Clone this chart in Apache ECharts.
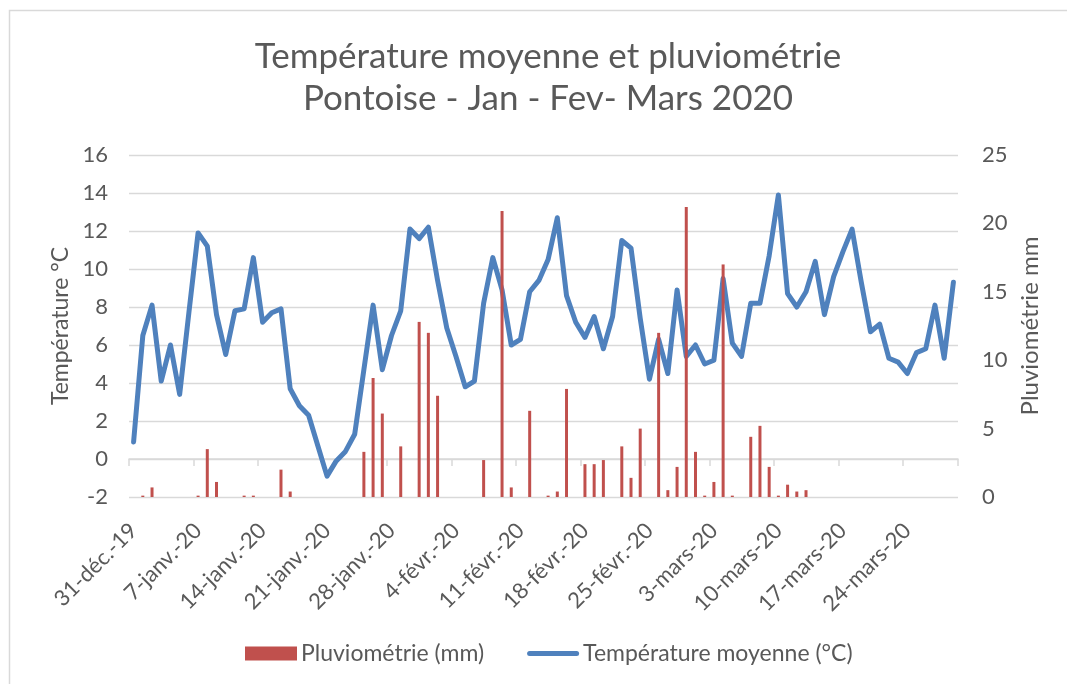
<!DOCTYPE html>
<html>
<head>
<meta charset="utf-8">
<script src="https://cdn.jsdelivr.net/npm/echarts@6/dist/echarts.min.js"></script>
<style>
  html, body { margin: 0; padding: 0; background: #fff; }
  #chart { width: 1067px; height: 684px; }
</style>
</head>
<body>
<div id="chart"></div>
<script>
// 31 déc. 2019 -> 29 mars 2020, one value per day
const startDay = new Date(2019, 11, 31);
const dayCount = 90;

const tickLabels = [
  '31-déc.-19', '7-janv.-20', '14-janv.-20', '21-janv.-20', '28-janv.-20',
  '4-févr.-20', '11-févr.-20', '18-févr.-20', '25-févr.-20',
  '3-mars-20', '10-mars-20', '17-mars-20', '24-mars-20'
];

const temperature = [
  0.9, 6.5, 8.1, 4.1, 6.0, 3.4, 7.7, 11.9, 11.2, 7.6,
  5.5, 7.8, 7.9, 10.6, 7.2, 7.7, 7.9, 3.7, 2.8, 2.3,
  0.7, -0.9, -0.1, 0.4, 1.3, 4.7, 8.1, 4.7, 6.5, 7.8,
  12.1, 11.6, 12.2, 9.4, 6.9, 5.4, 3.8, 4.1, 8.2, 10.6,
  8.9, 6.0, 6.3, 8.8, 9.4, 10.5, 12.7, 8.6, 7.2, 6.4,
  7.5, 5.8, 7.5, 11.5, 11.1, 7.4, 4.2, 6.3, 4.5, 8.9,
  5.4, 6.0, 5.0, 5.2, 9.5, 6.1, 5.4, 8.2, 8.2, 10.7,
  13.9, 8.7, 8.0, 8.8, 10.4, 7.6, 9.6, 10.9, 12.1, 9.3,
  6.7, 7.1, 5.3, 5.1, 4.5, 5.6, 5.8, 8.1, 5.3, 9.3
];

const rainfall = [
  0, 0.1, 0.7, 0, 0, 0, 0, 0.1, 3.5, 1.1,
  0, 0, 0.1, 0.1, 0, 0, 2.0, 0.4, 0, 0,
  0, 0, 0, 0, 0, 3.3, 8.7, 6.1, 0, 3.7,
  0, 12.8, 12.0, 7.4, 0, 0, 0, 0, 2.7, 0,
  20.9, 0.7, 0, 6.3, 0, 0.1, 0.4, 7.9, 0, 2.4,
  2.4, 2.7, 0, 3.7, 1.4, 5.0, 0, 12.0, 0.5, 2.2,
  21.2, 3.3, 0.1, 1.1, 17.0, 0.1, 0, 4.4, 5.2, 2.2,
  0.1, 0.9, 0.4, 0.5, 0, 0, 0, 0, 0, 0,
  0, 0, 0, 0, 0, 0, 0, 0, 0, 0
];

const days = [];
for (let i = 0; i < dayCount; i++) {
  const d = new Date(startDay.getTime() + i * 86400000);
  days.push(d.getFullYear() + '-' + (d.getMonth() + 1) + '-' + d.getDate());
}

const textColor = '#595959';
const gridColor = '#d9d9d9';
const tempColor = '#4f81bd';
const rainColor = '#c0504d';
const font = 'Lato, "Open Sans", sans-serif';

const chart = echarts.init(document.getElementById('chart'));

const option = {
  animation: false,
  backgroundColor: '#fff',
  textStyle: { fontFamily: font, color: textColor },
  graphic: [
    {
      type: 'rect',
      shape: { x: 9.5, y: 10.5, width: 1120, height: 720 },
      style: { fill: null, stroke: gridColor, lineWidth: 1.5 },
      silent: true
    }
  ],
  title: {
    text: 'Température moyenne et pluviométrie\nPontoise - Jan - Fev- Mars 2020',
    left: 543,
    top: 31,
    textAlign: 'center',
    textStyle: {
      fontFamily: font,
      fontSize: 35,
      fontWeight: 'normal',
      color: textColor,
      lineHeight: 42
    }
  },
  legend: {
    left: 240,
    top: 637,
    itemWidth: 52,
    itemHeight: 14,
    itemGap: 43,
    textStyle: { fontFamily: font, fontSize: 23, color: textColor, padding: [0, 0, 0, -1] },
    data: [
      { name: 'Pluviométrie (mm)', icon: 'rect' },
      {
        name: 'Température moyenne (°C)',
        icon: 'path://M2.5,0 L49.5,0 A2.5,2.5 0 0 1 49.5,5 L2.5,5 A2.5,2.5 0 0 1 2.5,0 Z',
        itemStyle: { color: tempColor }
      }
    ]
  },
  grid: {
    left: 129,
    right: 109,
    top: 155,
    bottom: 187,
    containLabel: false
  },
  xAxis: {
    type: 'category',
    data: days,
    boundaryGap: true,
    axisLine: { show: true, lineStyle: { color: gridColor, width: 1.5 } },
    axisTick: { show: true, interval: 6, length: 7, lineStyle: { color: gridColor, width: 1.5 } },
    axisLabel: {
      interval: 6,
      rotate: 45,
      margin: 30,
      fontFamily: font,
      fontSize: 22,
      color: textColor,
      formatter: (value, index) => tickLabels[index / 7] || ''
    },
    splitLine: { show: false }
  },
  yAxis: [
    {
      type: 'value',
      min: -2,
      max: 16,
      interval: 2,
      name: 'Température °C',
      nameLocation: 'middle',
      nameRotate: 90,
      nameGap: 57,
      nameTextStyle: { fontFamily: font, fontSize: 23, color: textColor },
      axisLine: { show: false },
      axisTick: { show: false },
      axisLabel: { margin: 21, fontFamily: font, fontSize: 22, color: textColor },
      splitLine: { show: true, lineStyle: { color: gridColor, width: 1.3 } }
    },
    {
      type: 'value',
      min: 0,
      max: 25,
      interval: 5,
      position: 'right',
      name: 'Pluviométrie mm',
      nameLocation: 'middle',
      nameRotate: 90,
      nameGap: 60,
      nameTextStyle: { fontFamily: font, fontSize: 24, color: textColor },
      axisLine: { show: false },
      axisTick: { show: false },
      axisLabel: { margin: 24, fontFamily: font, fontSize: 22, color: textColor },
      splitLine: { show: false }
    }
  ],
  series: [
    {
      name: 'Température moyenne (°C)',
      type: 'line',
      yAxisIndex: 0,
      data: temperature,
      symbol: 'none',
      z: 2,
      lineStyle: { color: tempColor, width: 5, cap: 'round', join: 'round' },
      itemStyle: { color: tempColor }
    },
    {
      name: 'Pluviométrie (mm)',
      type: 'bar',
      yAxisIndex: 1,
      data: rainfall,
      barWidth: 3,
      z: 3,
      itemStyle: { color: rainColor }
    }
  ]
};

chart.setOption(option);
</script>
</body>
</html>
